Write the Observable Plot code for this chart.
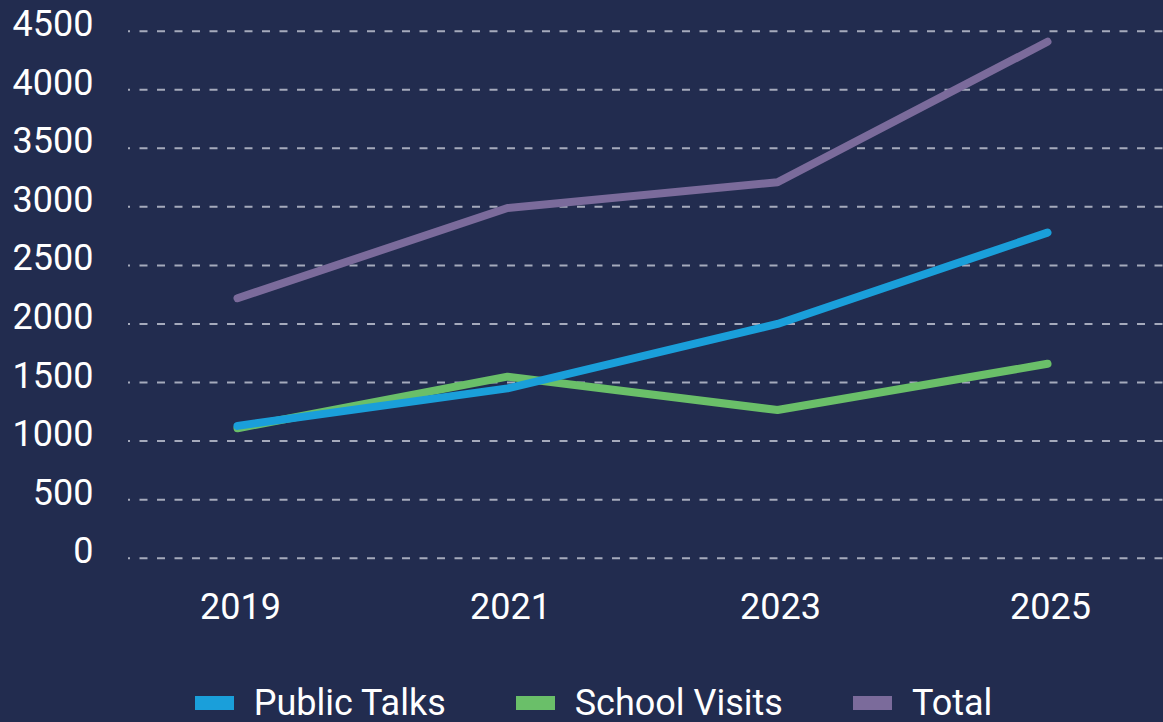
<!DOCTYPE html>
<html>
<head>
<meta charset="utf-8">
<script src="https://cdn.jsdelivr.net/npm/d3@7"></script>
<script src="https://cdn.jsdelivr.net/npm/@observablehq/plot@0.6"></script>
<style>
  html, body { margin: 0; padding: 0; background: #222c4f; overflow: hidden; }
  body { width: 1163px; height: 722px; position: relative; font-family: Roboto, "Noto Sans", sans-serif; }
  #chart svg { display: block; }
  #legend {
    position: absolute; left: 0; top: 685px; width: 1163px;
    display: flex; justify-content: center; align-items: center;
    font-size: 36px; line-height: 36px; color: #ffffff; padding-left: 24px; box-sizing: border-box;
  }
  .item { display: flex; align-items: center; margin: 0 35px; }
  .sw { width: 39px; height: 14px; margin-right: 20px; }
</style>
</head>
<body>
<div id="chart"></div>
<div id="legend"></div>
<script>
const years = ["2019", "2021", "2023", "2025"];
const seriesNames = ["Public Talks", "School Visits", "Total"];
const seriesColors = ["#1a9fda", "#6abf69", "#7b6b9b"];
const publicTalks = [1130, 1450, 2000, 2780];
const schoolVisits = [1110, 1550, 1265, 1660];
const total = [2220, 2990, 3210, 4410];
const yTicks = [0, 500, 1000, 1500, 2000, 2500, 3000, 3500, 4000, 4500];

const seriesValues = [publicTalks, schoolVisits, total];
const rows = [];
seriesNames.forEach((name, i) => {
  years.forEach((yr, j) => rows.push({ series: name, year: yr, value: seriesValues[i][j] }));
});
const drawOrder = ["School Visits", "Public Talks", "Total"];

const plot = Plot.plot({
  width: 1163,
  height: 650,
  marginLeft: 128,
  marginRight: 0,
  marginTop: 30.7,
  marginBottom: 92.3,
  style: { background: "transparent", color: "#ffffff", fontFamily: "Roboto, sans-serif", fontSize: "36px" },
  x: { type: "point", domain: years, padding: 0.41, align: 0.485, label: null },
  y: { domain: [0, 4500], label: null },
  color: { domain: seriesNames, range: seriesColors },
  marks: [
    Plot.gridY(yTicks, { stroke: "#b4b8c8", strokeOpacity: 0.9, strokeWidth: 2, strokeDasharray: "8,9.5", strokeDashoffset: 6 }),
    Plot.axisY(yTicks, { tickSize: 0, tickPadding: 35, dy: -6.5, fontSize: 36, fill: "#ffffff", label: null, tickFormat: d => String(d) }),
    Plot.axisX({ tickSize: 0, tickPadding: 35, dx: 3, fontSize: 36, fill: "#ffffff", label: null }),
    ...drawOrder.map(name => Plot.line(rows.filter(d => d.series === name), {
      x: "year", y: "value", stroke: "series", strokeWidth: 8, strokeLinecap: "round", strokeLinejoin: "round"
    }))
  ]
});
document.getElementById("chart").appendChild(plot);

const legend = document.getElementById("legend");
seriesNames.forEach((name, i) => {
  const item = document.createElement("div");
  item.className = "item";
  const sw = document.createElement("div");
  sw.className = "sw";
  sw.style.background = seriesColors[i];
  const label = document.createElement("span");
  label.textContent = name;
  item.appendChild(sw);
  item.appendChild(label);
  legend.appendChild(item);
});
</script>
</body>
</html>
